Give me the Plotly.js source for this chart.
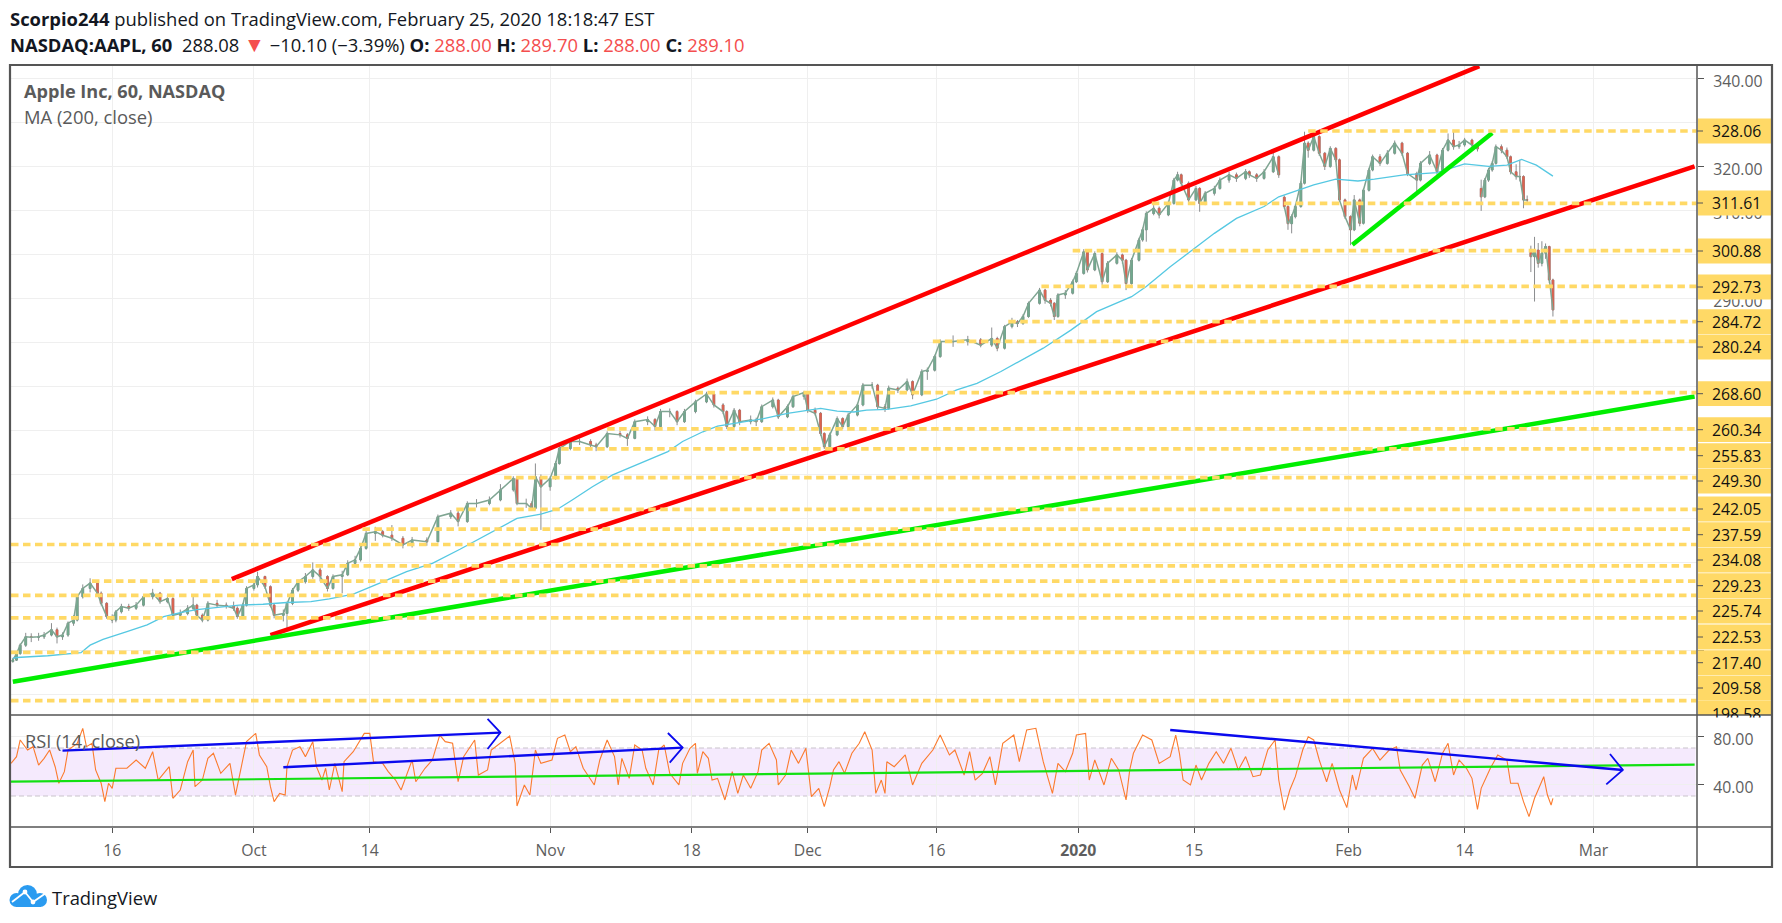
<!DOCTYPE html>
<html>
<head>
<meta charset="utf-8">
<script src="https://cdn.plot.ly/plotly-3.0.1.min.js"></script>
<style>html,body{margin:0;padding:0;background:#fff;overflow:hidden}#chart{width:1782px;height:923px}</style>
</head>
<body>
<div id="chart"></div>
<script>
// ---------- data (x unit = hourly bar number) ----------
const bars = [1,3,5,8,11,15,18,22,25,28,31,34,36,39,43,47,49,52,55,57,60,64,68,72,77,81,85,88,92,96,99,101,104,107,112,117,121,123,126,128,132,134,138,141,143,148,150,153,156,160,164,168,172,175,180,183,187,190,193,198,202,207,213,218,226,232,239,243,248,253,260,266,273,275,280,283,285,288,293,296,298,304,309,315,318,324,331,335,339,346,350,353,358,362,366,372,378,382,387,389,393,396,402,405,408,414,417,422,425,431,433,437,440,442,445,449,452,455,460,463,468,471,475,477,482,487,490,495,498,502,505,512,520,527,533,536,540,544,547,550,553,559,562,565,567,569,573,577,579,583,585,589,593,596,601,604,606,609,613,615,617,621,624,629,632,634,636,640,644,646,649,654,657,662,666,671,673,677,681,686,689,692,694,696,698,701,703,705,708,711,714,717,720,722,725,728,730,733,735,738,740,744,748,752,756,759,764,766,771,775,778,781,784,787,790,794,797,799,801,803,805,807,810,813,815,818,820,822,824,826,828,830,832,834,836,838];
const opens = [207.5,207.8,209.3,211.2,213.1,213.0,213.1,213.5,214.7,213.1,213.5,216.2,216.9,222.2,224.1,225.3,223.0,220.7,217.7,216.9,218.8,220.0,219.6,220.3,222.2,223.0,221.1,221.8,218.0,218.4,219.6,220.3,218.0,216.9,220.7,220.3,220.1,219.6,217.7,220.3,224.1,224.9,226.8,224.5,220.3,218.0,218.4,220.7,223.7,225.6,226.8,228.3,226.8,224.1,226.8,227.2,229.8,230.6,233.2,236.6,237.0,236.2,235.5,234.0,235.1,234.7,240.4,241.2,239.3,243.4,243.4,244.2,246.5,249.1,243.4,243.4,242.3,249.5,247.2,249.1,252.5,255.9,257.5,257.5,256.7,256.3,259.3,259.0,258.2,262.0,262.5,260.9,264.3,264.3,262.0,264.3,266.5,268.3,265.8,264.3,260.9,264.6,262.0,262.4,262.0,265.4,266.9,263.1,265.4,267.7,268.6,264.6,263.9,259.3,256.3,259.0,262.7,260.9,263.5,265.8,270.3,270.3,265.4,265.0,269.6,269.2,271.1,268.1,273.4,273.7,276.8,280.2,280.2,280.6,279.4,280.9,278.7,283.6,284.7,284.3,285.9,288.9,291.9,289.6,288.9,285.9,290.8,291.2,293.8,295.7,300.6,296.5,300.2,293.8,298.0,299.9,298.7,293.4,298.7,303.3,305.6,309.3,310.5,309.0,311.6,316.9,318.1,316.2,312.4,315.0,311.6,313.9,315.0,316.9,318.1,317.3,318.8,318.1,317.3,318.8,322.2,313.0,310.9,307.0,308.6,310.9,316.2,325.3,323.7,326.8,323.0,320.0,324.1,321.5,312.4,308.6,305.6,312.4,307.1,314.6,319.2,322.2,320.7,323.0,325.3,323.0,318.4,316.9,320.7,322.6,318.8,323.7,326.0,324.5,324.9,326.0,324.9,315.0,313.1,316.9,319.2,320.7,324.5,323.7,322.2,318.8,317.7,317.7,312.4,300.5,299.5,301.0,298.0,300.3,301.8,294.2];
const highs = [208.3,209.8,211.6,214.0,213.9,214.0,214.2,216.2,215.2,214.1,216.6,218.0,222.7,225.0,226.4,225.8,223.4,221.0,218.2,219.2,220.6,220.6,221.0,222.7,224.0,223.3,222.6,222.1,219.3,220.3,222.2,220.6,218.4,221.2,221.5,220.9,221.1,220.0,220.8,224.6,225.9,227.9,227.0,224.8,220.7,219.3,221.1,224.2,226.1,227.6,230.0,228.8,227.1,227.3,228.1,230.5,231.5,233.7,237.4,238.1,237.4,238.5,236.0,235.8,235.7,240.9,241.9,241.7,243.9,244.4,245.0,247.8,249.6,249.5,244.5,243.9,252.5,250.0,249.6,253.0,256.4,258.2,258.2,258.0,257.2,259.8,259.9,259.4,262.5,263.2,262.8,264.9,265.0,264.6,264.9,267.0,268.8,268.6,266.2,264.6,265.1,264.9,263.4,262.9,265.9,267.5,267.2,265.9,268.2,269.0,268.9,265.2,264.2,259.6,259.5,263.2,263.0,264.0,266.3,270.8,271.0,270.6,266.0,270.2,270.0,271.8,271.4,273.9,274.3,277.2,280.7,281.6,281.5,281.0,283.4,281.3,284.0,285.6,285.1,286.4,289.3,292.4,292.2,290.1,289.2,291.2,291.9,294.3,296.2,301.2,300.9,300.7,300.5,298.5,300.5,300.2,299.0,299.2,303.8,306.1,309.8,311.2,310.9,312.2,317.4,318.8,318.4,316.6,315.6,315.3,314.4,315.6,317.5,318.8,318.6,319.4,319.1,318.5,319.4,323.1,322.5,313.4,311.2,309.1,311.4,316.7,327.9,325.7,327.5,327.1,323.3,324.6,324.4,321.8,312.7,308.9,313.5,312.7,315.0,319.7,322.7,322.8,323.7,325.9,325.6,323.3,318.8,321.2,323.5,322.9,324.2,327.5,328.3,325.8,326.5,326.3,325.2,317.0,317.4,319.7,321.2,325.0,325.0,324.3,322.5,320.5,321.5,318.0,313.4,302.0,304.0,302.6,303.0,302.5,302.0,294.5];
const lows = [207.2,207.6,209.0,210.8,211.9,212.2,212.6,213.2,211.6,212.4,213.1,215.6,216.6,221.8,223.2,222.4,220.2,217.2,216.2,216.4,218.4,219.0,219.2,220.0,221.6,220.6,220.7,217.6,217.4,218.0,219.2,217.5,216.4,216.6,219.8,219.5,219.0,217.2,217.4,220.0,223.6,224.3,224.0,219.8,217.3,216.6,215.0,220.3,223.3,225.2,226.3,225.7,223.4,223.8,223.0,226.9,229.4,230.2,232.9,234.9,235.7,234.9,233.2,233.4,233.8,235.0,239.9,238.2,239.0,242.5,243.0,243.9,246.1,243.0,242.4,241.8,242.0,237.4,246.3,248.8,252.2,255.5,256.7,256.0,255.3,256.0,258.4,256.5,258.0,261.2,260.0,260.6,263.0,261.2,261.7,263.9,266.2,265.2,263.7,260.3,260.6,261.2,261.4,261.0,261.7,265.0,262.6,262.8,265.1,267.0,264.0,263.4,258.8,255.8,256.0,258.7,260.3,260.6,263.2,265.5,269.5,264.8,264.2,264.7,268.5,268.9,267.1,267.8,271.5,273.4,276.5,279.0,279.3,278.9,279.0,278.0,278.4,283.2,283.5,284.0,285.6,288.6,288.8,288.2,285.1,285.6,289.9,290.9,293.5,295.4,295.9,296.2,293.1,293.5,297.7,297.9,291.9,293.1,298.4,302.9,302.9,308.9,308.2,308.7,311.3,316.6,315.6,311.4,312.1,309.7,311.2,313.4,314.7,316.3,316.5,316.9,317.4,316.5,317.0,318.5,317.4,310.4,305.6,304.8,308.2,310.6,315.9,322.0,323.4,322.4,319.2,319.7,321.0,311.9,308.1,302.1,305.3,306.4,306.8,314.3,318.9,320.1,320.4,322.7,322.4,317.8,314.3,316.6,320.3,318.1,318.5,323.4,323.8,324.0,324.5,324.3,323.4,309.9,312.8,316.5,318.8,320.4,323.0,321.7,318.2,317.0,316.6,310.5,311.9,296.0,289.3,297.0,297.3,299.0,293.5,285.9];
const closes = [207.8,209.3,211.2,213.1,213.0,213.1,213.5,214.7,213.1,213.5,216.2,216.9,222.2,224.1,225.3,223.0,220.7,217.7,216.9,218.8,220.0,219.6,220.3,222.2,223.0,221.1,221.8,218.0,218.4,219.6,220.3,218.0,216.9,220.7,220.3,220.1,219.6,217.7,220.3,224.1,224.9,226.8,224.5,220.3,218.0,218.4,220.7,223.7,225.6,226.8,228.3,226.8,224.1,226.8,227.2,229.8,230.6,233.2,236.6,237.0,236.2,235.5,234.0,235.1,234.7,240.4,241.2,239.3,243.4,243.4,244.2,246.5,249.1,243.4,243.4,242.3,249.5,247.2,249.1,252.5,255.9,257.5,257.5,256.7,256.3,259.3,259.0,258.2,262.0,262.5,260.9,264.3,264.3,262.0,264.3,266.5,268.3,265.8,264.3,260.9,264.6,262.0,262.4,262.0,265.4,266.9,263.1,265.4,267.7,268.6,264.6,263.9,259.3,256.3,259.0,262.7,260.9,263.5,265.8,270.3,270.3,265.4,265.0,269.6,269.2,271.1,268.1,273.4,273.7,276.8,280.2,280.2,280.6,279.4,280.9,278.7,283.6,284.7,284.3,285.9,288.9,291.9,289.6,288.9,285.9,290.8,291.2,293.8,295.7,300.6,296.5,300.2,293.8,298.0,299.9,298.7,293.4,298.7,303.3,305.6,309.3,310.5,309.0,311.6,316.9,318.1,316.2,312.4,315.0,311.6,313.9,315.0,316.9,318.1,317.3,318.8,318.1,317.3,318.8,322.2,318.1,310.9,307.0,308.6,310.9,316.2,325.3,323.7,326.8,323.0,320.0,324.1,321.5,312.4,308.6,305.6,312.4,307.1,314.6,319.2,322.2,320.7,323.0,325.3,323.0,318.4,316.9,320.7,322.6,318.8,323.7,326.0,324.5,324.9,326.0,324.9,324.0,313.1,316.9,319.2,320.7,324.5,323.7,322.2,318.8,317.7,317.7,312.4,312.4,299.5,301.0,298.0,300.3,301.8,294.2,287.4];

const maBars = [1,3,20,30,38,43,50,63,74,83,92,101,112,124,137,150,163,173,186,193,202,215,229,244,255,266,275,288,297,305,316,327,342,357,365,376,384,396,409,422,433,440,449,458,465,476,489,503,514,525,538,561,576,590,609,617,630,642,654,666,681,689,699,708,720,732,741,757,775,790,803,813,821,829,838];
const maValues = [208.2,208.4,208.8,209.2,209.5,211.2,212.5,214.3,215.8,217.7,218.6,219.3,219.8,220.3,220.5,220.9,221.1,221.7,222.8,224.1,225.6,227.9,229.8,233.0,235.5,238.1,240.0,241.0,242.1,244.2,247.2,249.9,252.5,255.2,257.5,259.7,261.0,261.8,262.7,263.9,264.6,265.0,264.4,264.2,264.6,264.8,265.6,267.1,269.2,270.7,273.4,278.7,282.8,287.0,290.4,292.7,297.2,301.0,304.8,308.2,310.9,313.1,314.5,315.8,317.1,316.7,317.1,318.1,318.6,320.6,320.0,320.3,321.6,320.3,317.8];

const rsiBars = [0,3,5,9,12,15,18,21,24,26,29,31,36,39,41,44,46,49,51,53,55,57,63,68,73,77,80,86,88,92,96,99,100,104,107,110,114,119,122,126,128,133,135,139,141,143,146,149,150,153,157,160,164,166,169,171,173,176,180,181,186,192,195,197,202,205,209,212,218,220,225,229,233,236,240,243,246,252,254,259,261,271,274,275,279,282,285,288,294,297,301,304,307,311,317,320,324,328,330,332,336,339,343,345,349,352,355,358,363,365,369,372,373,376,379,381,384,388,392,395,398,402,406,408,412,416,417,421,424,428,432,435,439,442,445,447,450,453,457,461,464,468,470,473,475,476,480,486,490,495,501,505,510,513,518,521,524,528,532,535,539,545,548,552,557,561,566,569,573,577,579,584,586,589,594,598,602,606,608,610,615,620,624,630,633,635,637,641,644,647,651,655,659,663,667,671,675,679,683,687,689,692,695,698,702,705,708,711,715,718,722,726,729,731,735,740,744,749,753,755,760,763,767,770,774,778,781,784,787,791,794,797,799,804,808,813,815,819,822,825,828,833,835,837,838];
const rsiValues = [57.2,62.8,76.7,68.3,71.1,55.8,61.4,68.3,54.4,40.6,50.3,68.3,73.9,86.4,71.1,73.9,51.7,40.6,25.3,40.6,36.4,53.1,53.1,60,53.1,66.9,43.3,54.4,28.1,35,58.6,68.3,37.8,43.3,61.4,65.6,48.9,57.2,30.8,60,75.3,82.2,64.2,54.4,37.8,25.3,32.2,30.8,54.4,68.3,71.1,62.8,75.3,54.4,43.3,53.1,35,57.2,33.6,58.6,66.9,82.2,82.2,58.6,57.2,50.3,43.3,35,60,41.9,53.1,60,80.8,75.3,73.9,41.9,62.8,76.7,47.5,51.7,68.3,80,57.2,21.7,39.2,30.8,68.3,57.2,60,78.1,80.8,66.9,71.1,53.1,39.2,60,76.7,62.8,39.2,61.4,44.7,72.5,68.3,53.1,39.2,68.3,72.5,48.9,39.2,57.2,69.7,73.9,48.9,66.9,61.4,43.3,44.7,26.7,50.3,32.2,47.5,36.4,50.3,68.3,73.9,60,39.2,47.5,68.3,57.2,69.7,29.4,36.4,21.1,37.8,51.7,58.6,48.9,65.6,73.9,83.6,68.3,32.2,43.3,32.2,58.6,54.4,64.2,39.2,57.2,68.3,80.8,64.2,68.3,47.5,66.9,43.3,48.9,62.8,39.2,73.9,80.8,58.6,85,86.4,58.6,32.2,57.2,50.3,65.6,80.8,82.2,43.3,60,39.2,61.4,51.7,26.7,51.7,65.6,80.8,76.7,57.2,62.8,80.8,65.6,43.3,39.2,55.8,43.3,57.2,66.9,57.2,69.7,51.7,62.8,46.1,47.5,68.3,76.7,43.3,18.3,35,46.1,68.3,79.4,76.7,60,41.9,57.2,35,20.3,47.5,35,61.4,69.7,60,68.3,71.1,51.7,37.8,28.1,55.8,61.4,41.9,65.6,73.9,47.5,60,53.1,44.7,18.9,36.4,53.1,64.2,60,40.6,40.6,25.3,12.8,28.1,46.1,30.8,22.5,28.1];

const levelPrices = [328.06,311.61,300.88,292.73,284.72,280.24,268.60,260.34,255.83,249.30,242.05,237.59,234.08,229.23,225.74,222.53,217.40,209.58,198.58];
const levelStartBars = [705,620,577,560,542,501,372,324,299,268,242,191,0,159,44,0,0,0,0];
const levelEndBars = [916,916,916,916,916,916,916,916,916,916,916,913,916,913,916,916,916,916,916];

const redBars = [120,798, null, 141,915];
const redPrices = [226.2,342.8, null, 213.5,320.0];
const greenBars = [1,915, null, 729,805];
const greenPrices = [202.9,267.7, null, 302.2,327.6];

const rsiGreenBars = [0,915];
const rsiGreenValues = [41.9,56.1];
const blueBars = [28,266, null, 148,365, null, 630,876];
const blueValues = [67.8,82.8, null, 53.9,70.3, null, 85,51.7];
const blueHeadBars = [259,266,259, null, 357,365,358, null, 869,876,867];
const blueHeadValues = [94.2,82.8,69.2, null, 82.5,70.3,57.8, null, 65,51.7,39.7];

const timeTickBars = [55,132,195,293,370,433,503,580,643,727,790,860];
const timeTickLabels = ['16','Oct','14','Nov','18','Dec','16','<b>2020</b>','15','Feb','14','Mar'];
const priceTicks = [200,210,220,230,240,250,260,270,280,290,300,310,320,330,340];
const priceTickLabels = ['','','','','','','','','','290.00','','310.00','320.00','330.00','340.00'];
const rsiTicks = [40,80];
const rsiTickLabels = ['40.00','80.00'];

// ---------- page geometry and styling ----------
const W = 1782, H = 923;
const PX = p => p / W, PY = p => 1 - p / H;
const FONT = '"Open Sans", "Noto Sans", sans-serif';
const GOLD = '#ffd966', FRAME = '#555555', GRID = '#efefef', AXIS_TEXT = '#5e5e5e';
const labelCentres = [131,203,251,287,321.7,347,393.7,429.7,455.7,481,509,534.7,560,585.7,611,637,662.7,688,713];

function levelLines() {
  const x = [], y = [];
  levelPrices.forEach((p, i) => { x.push(levelStartBars[i], levelEndBars[i], null); y.push(p, p, null); });
  return {x, y};
}
const lv = levelLines();

// close path underlay, broken at the opening gaps
const gapAfter = [689, 797, 824];
const pathX = [], pathY = [];
bars.forEach((b, i) => { pathX.push(b); pathY.push(closes[i]); if (gapAfter.includes(b)) { pathX.push(null); pathY.push(null); } });

const bodyHigh = opens.map((o, i) => Math.max(o, closes[i]));
const bodyLow = opens.map((o, i) => Math.min(o, closes[i]));

const data = [
  {type:'scatter', mode:'lines', x:pathX, y:pathY, line:{color:'#7fa592', width:1.5}, hoverinfo:'skip'},
  {type:'candlestick', x:bars, open:opens, high:highs, low:lows, close:closes, whiskerwidth:0,
    increasing:{line:{color:'#7e8082', width:0.9}, fillcolor:'#7e8082'},
    decreasing:{line:{color:'#7e8082', width:0.9}, fillcolor:'#7e8082'}, hoverinfo:'skip'},
  {type:'candlestick', x:bars, open:opens, high:bodyHigh, low:bodyLow, close:closes, whiskerwidth:0,
    increasing:{line:{color:'#72ab8f', width:0.5}, fillcolor:'#72ab8f'},
    decreasing:{line:{color:'#dc6350', width:0.5}, fillcolor:'#dc6350'}, hoverinfo:'skip'},
  {type:'scatter', mode:'lines', x:maBars, y:maValues, line:{color:'#55c8e2', width:1.3}, hoverinfo:'skip'},
  {type:'scatter', mode:'lines', x:redBars, y:redPrices, line:{color:'#ff0000', width:4.5}, hoverinfo:'skip'},
  {type:'scatter', mode:'lines', x:greenBars, y:greenPrices, line:{color:'#00ee00', width:4.5}, hoverinfo:'skip'},
  {type:'scatter', mode:'lines', x:lv.x, y:lv.y, line:{color:GOLD, width:3.7, dash:'7.5px,4.5px'}, hoverinfo:'skip'},
  {type:'scatter', mode:'lines', x:rsiBars, y:rsiValues, yaxis:'y2', line:{color:'#fb7b2e', width:1.1}, hoverinfo:'skip'},
  {type:'scatter', mode:'lines', x:rsiGreenBars, y:rsiGreenValues, yaxis:'y2', line:{color:'#12e012', width:2.2}, hoverinfo:'skip'},
  {type:'scatter', mode:'lines', x:blueBars, y:blueValues, yaxis:'y2', line:{color:'#0a0aee', width:2.4}, hoverinfo:'skip'},
  {type:'scatter', mode:'lines', x:blueHeadBars, y:blueHeadValues, yaxis:'y2', line:{color:'#0a0aee', width:1.8}, hoverinfo:'skip'}
];

const pxRect = (x0,y0,x1,y1,fill,extra) => Object.assign({type:'rect', xref:'paper', yref:'paper', layer:'above',
  x0:PX(x0), x1:PX(x1), y0:PY(y1), y1:PY(y0), fillcolor:fill, line:{width:0}}, extra||{});
const pxLine = (x0,y0,x1,y1,color,width) => ({type:'line', xref:'paper', yref:'paper', layer:'above',
  x0:PX(x0), x1:PX(x1), y0:PY(y0), y1:PY(y1), line:{color, width}});
const pxCircle = (cx,cy,r,fill) => ({type:'circle', xref:'paper', yref:'paper', layer:'above',
  x0:PX(cx-r), x1:PX(cx+r), y0:PY(cy+r), y1:PY(cy-r), fillcolor:fill, line:{width:0}});

const shapes = [
  {type:'rect', xref:'x', yref:'y2', layer:'below', x0:0, x1:915.5, y0:30, y1:70, fillcolor:'rgba(160,60,240,0.11)', line:{width:0}},
  {type:'line', xref:'x', yref:'y2', layer:'below', x0:0, x1:915.5, y0:70, y1:70, line:{color:'#c9c3cc', width:1.2, dash:'5px,3px'}},
  {type:'line', xref:'x', yref:'y2', layer:'below', x0:0, x1:915.5, y0:30, y1:30, line:{color:'#c9c3cc', width:1.2, dash:'5px,3px'}}
];
// gold price tags and their tick marks
labelCentres.forEach((c, i) => {
  const tagTop = c - 12.4, tagBottom = Math.min(c + 12.4, 715);
  shapes.push(pxRect(1698, tagTop, 1771, tagBottom, GOLD));
  if (c < 710) shapes.push(pxLine(1697, c, 1703, c, FRAME, 1));
});
// frame
shapes.push(
  pxLine(1697, 65, 1697, 867, FRAME, 1.5),
  pxLine(10, 715, 1772, 715, FRAME, 1.5),
  pxLine(10, 827, 1772, 827, FRAME, 1.5),
  {type:'rect', xref:'paper', yref:'paper', layer:'above', x0:PX(10), x1:PX(1772), y0:PY(867), y1:PY(65), line:{color:FRAME, width:2.2}}
);
// TradingView cloud mark
shapes.push(
  pxCircle(27.5,894.5,9.5,'#2a9bf0'), pxCircle(16.5,900,7,'#2a9bf0'), pxCircle(40,900,7,'#2a9bf0'),
  pxRect(16,898,41,907,'#2a9bf0'),
  pxLine(12,902,25,892,'#ffffff',1.8), pxLine(25,892,33,902,'#ffffff',1.8), pxLine(33,902,46,893,'#ffffff',1.8),
  pxCircle(25,892,2.4,'#ffffff'), pxCircle(33,902,2.4,'#ffffff')
);

const textAnn = (x, y, text, size, color, extra) => Object.assign({xref:'paper', yref:'paper', x:PX(x), y:PY(y),
  xanchor:'left', yanchor:'middle', align:'left', showarrow:false, text, font:{family:FONT, size, color}}, extra||{});

const RED = '#f44e4e';
const annotations = [
  textAnn(8, 18.5, '<b>Scorpio244</b> published on TradingView.com, February 25, 2020 18:18:47 EST', 18.4, '#131722'),
  textAnn(8, 44, '<b>NASDAQ:AAPL, 60</b>&nbsp; 288.08 <span style="color:'+RED+';font-size:21px">▼</span> −10.10 (−3.39%) <b>O:</b> <span style="color:'+RED+'">288.00</span> <b>H:</b> <span style="color:'+RED+'">289.70</span> <b>L:</b> <span style="color:'+RED+'">288.00</span> <b>C:</b> <span style="color:'+RED+'">289.10</span>', 18.4, '#131722'),
  textAnn(22, 90.5, '<b>Apple Inc, 60, NASDAQ</b>', 18.1, '#5a5a5a'),
  textAnn(22, 116.5, 'MA (200, close)', 18.4, '#5a5a5a'),
  textAnn(22.5, 740.5, 'RSI (14, close)', 18.2, '#5a5a5a'),
  textAnn(50, 897, 'TradingView', 18.4, '#131722')
];
levelPrices.forEach((p, i) => {
  const c = labelCentres[i], clipped = c > 705;
  annotations.push(Object.assign(
    textAnn(1710, clipped ? 700.6 : c, p.toFixed(2), 15.8, '#111111'),
    clipped ? {yanchor:'top', height:14.4, valign:'top'} : {}));
});

const axisFont = {family:FONT, size:15.8, color:AXIS_TEXT};
const layout = {
  width:W, height:H, margin:{l:0, r:0, t:0, b:0}, paper_bgcolor:'#ffffff', plot_bgcolor:'#ffffff',
  showlegend:false, hovermode:false, boxgap:0.3, boxmode:'overlay',
  xaxis:{domain:[PX(11),PX(1697)], range:[0,916.3], anchor:'y2', tickvals:timeTickBars, ticktext:timeTickLabels,
    ticks:'outside', ticklen:5, tickcolor:FRAME, tickwidth:1, showgrid:true, gridcolor:GRID, gridwidth:1, zeroline:false,
    showline:false, tickangle:0, tickfont:axisFont, ticklabelstandoff:4, rangeslider:{visible:false}},
  yaxis:{domain:[PY(715),PY(65)], range:[195.33,343.06], side:'right', anchor:'x', tickvals:priceTicks, ticktext:priceTickLabels,
    ticks:'outside', ticklen:6, tickcolor:FRAME, tickwidth:1, showgrid:true, gridcolor:GRID, gridwidth:1, zeroline:false,
    showline:false, tickfont:axisFont, ticklabelstandoff:6, ticklabelshift:3},
  yaxis2:{domain:[PY(827),PY(715)], range:[4.17,97.5], side:'right', anchor:'x', tickvals:rsiTicks, ticktext:rsiTickLabels,
    ticks:'outside', ticklen:6, tickcolor:FRAME, tickwidth:1, showgrid:true, gridcolor:GRID, gridwidth:1, zeroline:false,
    showline:false, tickfont:axisFont, ticklabelstandoff:6, ticklabelshift:3},
  shapes, annotations
};
Plotly.newPlot('chart', data, layout, {displayModeBar:false, staticPlot:true});
</script>
</body>
</html>
